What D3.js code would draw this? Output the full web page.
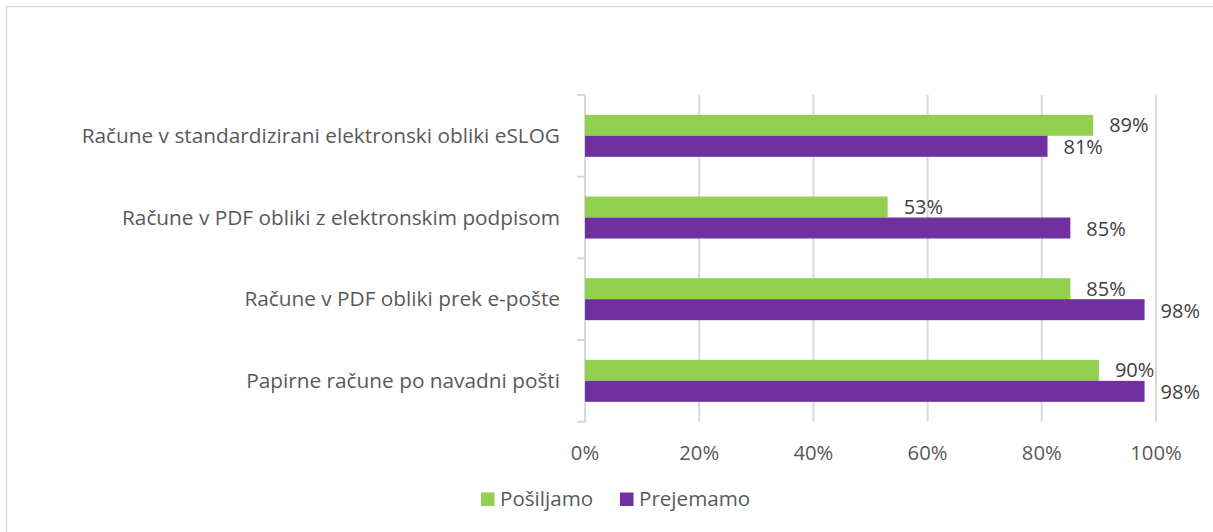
<!DOCTYPE html>
<html>
<head>
<meta charset="utf-8">
<script src="https://cdn.jsdelivr.net/npm/d3@7"></script>
<style>
  body { margin: 0; background: #fff; }
  svg { font-family: "Open Sans", sans-serif; }
</style>
</head>
<body>
<div id="chart"></div>
<script>
const categories = [
    "Račune v standardizirani elektronski obliki eSLOG",
    "Račune v PDF obliki z elektronskim podpisom",
    "Račune v PDF obliki prek e-pošte",
    "Papirne račune po navadni pošti"
];
const seriesNames = ["Pošiljamo", "Prejemamo"];
const posiljamo = [0.89, 0.53, 0.85, 0.90];
const prejemamo = [0.81, 0.85, 0.98, 0.98];
const xTicks = [0, 0.2, 0.4, 0.6, 0.8, 1.0];
const colors = ["#92D050", "#7030A0"];

const W = 1213, H = 532;
const plotLeft = 585, plotRight = 1156, plotTop = 95, plotBottom = 421.7;

const svg = d3.select("#chart").append("svg")
    .attr("width", W)
    .attr("height", H);

// chart frame
svg.append("rect")
    .attr("x", 6.5).attr("y", 6.5)
    .attr("width", W + 10).attr("height", H + 10)
    .attr("fill", "none")
    .attr("stroke", "#d9d9d9")
    .attr("stroke-width", 1.5);

const x = d3.scaleLinear().domain([0, 1]).range([plotLeft, plotRight]);
const y = d3.scaleBand().domain(categories).range([plotTop, plotBottom])
    .paddingInner(0.486).paddingOuter(0.243);
const ySub = d3.scaleBand().domain(seriesNames).range([0, y.bandwidth()]);

// gridlines
svg.append("g")
    .selectAll("line")
    .data(xTicks.slice(1))
    .join("line")
    .attr("x1", d => x(d)).attr("x2", d => x(d))
    .attr("y1", plotTop).attr("y2", plotBottom)
    .attr("stroke", "#d9d9d9")
    .attr("stroke-width", 2);

// x tick labels
svg.append("g")
    .selectAll("text")
    .data(xTicks)
    .join("text")
    .attr("x", d => x(d))
    .attr("y", 453)
    .attr("dy", "0.35em")
    .attr("text-anchor", "middle")
    .attr("font-size", 20.3)
    .attr("fill", "#595959")
    .text(d3.format(".0%"));

// y axis line and ticks at band boundaries
const step = y.step();
const yAxis = svg.append("g");
yAxis.append("line")
    .attr("x1", plotLeft).attr("x2", plotLeft)
    .attr("y1", plotTop).attr("y2", plotBottom)
    .attr("stroke", "#d9d9d9").attr("stroke-width", 2);
yAxis.selectAll(".tick")
    .data(d3.range(categories.length + 1))
    .join("line")
    .attr("class", "tick")
    .attr("x1", plotLeft - 8).attr("x2", plotLeft)
    .attr("y1", i => plotTop + i * step).attr("y2", i => plotTop + i * step)
    .attr("stroke", "#d9d9d9").attr("stroke-width", 2);

// category labels
svg.append("g")
    .selectAll("text")
    .data(categories)
    .join("text")
    .attr("x", 560)
    .attr("y", d => y(d) + y.bandwidth() / 2)
    .attr("dy", "0.35em")
    .attr("text-anchor", "end")
    .attr("font-size", 20.8)
    .attr("fill", "#595959")
    .text(d => d);

// bars
const rows = categories.map((c, i) => ({ cat: c, values: [posiljamo[i], prejemamo[i]] }));
const groups = svg.append("g")
    .selectAll("g")
    .data(rows)
    .join("g")
    .attr("transform", d => `translate(0, ${y(d.cat)})`);

groups.selectAll("rect")
    .data(d => d.values.map((v, j) => ({ s: seriesNames[j], v, j })))
    .join("rect")
    .attr("x", plotLeft)
    .attr("y", d => ySub(d.s))
    .attr("width", d => x(d.v) - plotLeft)
    .attr("height", ySub.bandwidth())
    .attr("fill", d => colors[d.j]);

groups.selectAll("text")
    .data(d => d.values.map((v, j) => ({ s: seriesNames[j], v, j })))
    .join("text")
    .attr("x", d => x(d.v) + 16)
    .attr("y", d => ySub(d.s) + ySub.bandwidth() / 2 + (d.j ? 1 : 0))
    .attr("dy", "0.35em")
    .attr("font-size", 20)
    .attr("fill", "#404040")
    .text(d => d3.format(".0%")(d.v));

// legend
const legend = svg.append("g");
const legendX = [481, 620];
seriesNames.forEach((name, i) => {
    legend.append("rect")
        .attr("x", legendX[i]).attr("y", 492.5)
        .attr("width", 13.5).attr("height", 13.5)
        .attr("fill", colors[i]);
    legend.append("text")
        .attr("x", legendX[i] + 19).attr("y", 499)
        .attr("dy", "0.35em")
        .attr("font-size", 20.6)
        .attr("fill", "#595959")
        .text(name);
});
</script>
</body>
</html>
